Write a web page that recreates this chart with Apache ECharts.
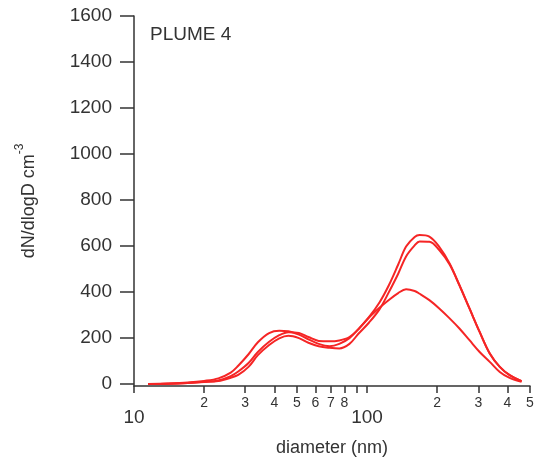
<!DOCTYPE html>
<html>
<head>
<meta charset="utf-8">
<script src="https://cdn.jsdelivr.net/npm/echarts@6/dist/echarts.min.js"></script>
<style>
html,body{margin:0;padding:0;background:#fff;}
#chart{width:542px;height:465px;}
</style>
</head>
<body>
<div id="chart"></div>
<script>
// Diameters (nm)
var diameters = [11.5, 14, 17, 20, 23, 26, 28, 31, 34, 38, 42, 46, 51, 56, 62, 69, 76, 84, 92, 102, 113, 124, 136, 147, 160, 168, 185, 204, 226, 249, 275, 304, 336, 371, 409, 460];
// dN/dlogD (cm^-3)
var scanA = [1, 3, 7, 14, 25, 50, 80, 130, 182, 222, 232, 230, 215, 195, 175, 165, 175, 200, 240, 290, 332, 366, 396, 412, 405, 393, 365, 329, 286, 242, 191, 140, 97, 53, 27, 10];
var scanB = [1, 2, 5, 10, 16, 35, 55, 92, 140, 184, 213, 226, 222, 205, 188, 186, 190, 205, 240, 292, 355, 430, 520, 598, 640, 648, 641, 597, 525, 430, 329, 227, 133, 75, 39, 13];
var scanC = [1, 2, 5, 9, 14, 28, 40, 75, 126, 170, 199, 210, 200, 180, 165, 158, 155, 175, 220, 268, 325, 400, 480, 555, 603, 620, 619, 583, 520, 430, 329, 227, 133, 75, 39, 13];
var xTickValues = [10, 20, 30, 40, 50, 60, 70, 80, 90, 100, 200, 300, 400, 500];
var xLabelValues = [10, 20, 30, 40, 50, 60, 70, 80, 100, 200, 300, 400, 500];
var yTickValues = [0, 200, 400, 600, 800, 1000, 1200, 1400, 1600];
var panelLabel = 'PLUME 4';

function pairs(vals) {
  return diameters.map(function (d, i) { return [d, vals[i]]; });
}
var lineColor = '#f52525';
function mk(name, vals) {
  return {
    name: name, type: 'line', data: pairs(vals), smooth: 0.35,
    showSymbol: false, lineStyle: { color: lineColor, width: 2 }, itemStyle: { color: lineColor }
  };
}
var axisCol = '#333';
var ff = 'Liberation Sans, Arial, sans-serif';
var chart = echarts.init(document.getElementById('chart'), null, { renderer: 'canvas' });
chart.setOption({
  animation: false,
  backgroundColor: '#fff',
  grid: { left: 134, right: 12, top: 16, bottom: 79, containLabel: false },
  xAxis: {
    type: 'log', logBase: 10, min: 10, max: 500,
    name: 'diameter (nm)', nameLocation: 'middle', nameGap: 53,
    nameTextStyle: { fontSize: 18, color: '#333', fontFamily: ff },
    axisLine: { onZero: false, lineStyle: { color: axisCol, width: 1.5 } },
    axisTick: { customValues: xTickValues, length: 7, lineStyle: { color: axisCol, width: 1.5 } },
    splitLine: { show: false },
    minorTick: { show: false },
    axisLabel: {
      customValues: xLabelValues, margin: 10, showMinLabel: true, showMaxLabel: true,
      color: '#333', fontFamily: ff,
      formatter: function (v) {
        var r = Math.round(v);
        if (r === 10 || r === 100) return '{big|' + r + '}';
        var s = String(r);
        return '{small|' + s.charAt(0) + '}';
      },
      rich: {
        big: { fontSize: 19, padding: [12, 0, 0, 0], color: '#333', fontFamily: ff },
        small: { fontSize: 14, color: '#333', fontFamily: ff }
      }
    }
  },
  yAxis: {
    type: 'value', min: -8, max: 1600,
    name: '{a|dN/dlogD cm}{b|-3}', nameLocation: 'middle', nameGap: 96, nameRotate: 90,
    nameTextStyle: {
      rich: {
        a: { fontSize: 18, color: '#333', fontFamily: ff, lineHeight: 24, verticalAlign: 'bottom' },
        b: { fontSize: 12, color: '#333', fontFamily: ff, lineHeight: 24, verticalAlign: 'top' }
      }
    },
    axisLine: { show: true, lineStyle: { color: axisCol, width: 1.5 } },
    axisTick: { show: true, customValues: yTickValues, length: 14, lineStyle: { color: axisCol, width: 1.5 } },
    splitLine: { show: false },
    axisLabel: {
      customValues: yTickValues, margin: 22, fontSize: 19, color: '#333', fontFamily: ff,
      formatter: function (v) { return String(Math.round(v)); }
    }
  },
  graphic: [{
    type: 'text', left: 150, top: 25,
    style: { text: panelLabel, fontSize: 19, fill: '#333', fontFamily: ff }
  }],
  series: [mk('Scan A', scanA), mk('Scan B', scanB), mk('Scan C', scanC)]
});
</script>
</body>
</html>
